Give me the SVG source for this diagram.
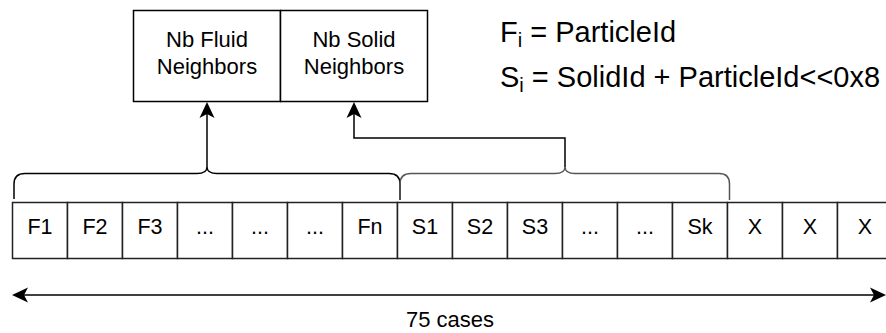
<svg xmlns="http://www.w3.org/2000/svg" width="886" height="333" viewBox="0 0 886 333">
<style>
  .box { fill: #fff; stroke: #000; stroke-width: 1.5; }
  .cell { fill: #fff; stroke: #222; stroke-width: 1.5; }
  .lbl { font-family: "Liberation Sans", Arial, sans-serif; font-size: 22px; fill: #000; text-anchor: middle; }
  .cl { font-family: "Liberation Sans", Arial, sans-serif; font-size: 21.5px; fill: #000; text-anchor: middle; }
  .fx { font-family: "Liberation Sans", Arial, sans-serif; font-size: 29px; fill: #000; }
  .sub { font-size: 20px; }
  .wire { fill: none; stroke: #000; stroke-width: 1.5; }
  .brace { fill: none; stroke: #000; stroke-width: 1.5; }
  .brace2 { fill: none; stroke: #555; stroke-width: 1.5; }
</style>
<defs>
  <marker id="arr" viewBox="0 -8 16 16" refX="4" refY="0" markerWidth="16" markerHeight="16" markerUnits="userSpaceOnUse" orient="auto-start-reverse">
    <path d="M16,0 L0,-7.5 L4,0 L0,7.5 Z" fill="#000"/>
  </marker>
</defs>
<rect width="886" height="333" fill="#fff"/>

<g id="node-fluid">
  <rect class="box" x="133.5" y="10.5" width="147" height="91"/>
  <text class="lbl" x="207" y="47">Nb Fluid</text>
  <text class="lbl" x="207" y="74">Neighbors</text>
</g>
<g id="node-solid">
  <rect class="box" x="280.5" y="10.5" width="147" height="91"/>
  <text class="lbl" x="354" y="47">Nb Solid</text>
  <text class="lbl" x="354" y="74">Neighbors</text>
</g>

<g id="legend">
  <text class="fx" x="500" y="42">F<tspan class="sub" dy="5">i</tspan><tspan dy="-5"> = ParticleId</tspan></text>
  <text class="fx" x="500" y="87">S<tspan class="sub" dy="5">i</tspan><tspan dy="-5"> = SolidId + ParticleId&lt;&lt;0x8</tspan></text>
</g>

<g id="cells">
  <g id="cell-1"><rect class="cell" x="12.5" y="202.5" width="55" height="56"/><text class="cl" x="40" y="234">F1</text></g>
  <g id="cell-2"><rect class="cell" x="67.5" y="202.5" width="55" height="56"/><text class="cl" x="95" y="234">F2</text></g>
  <g id="cell-3"><rect class="cell" x="122.5" y="202.5" width="55" height="56"/><text class="cl" x="150" y="234">F3</text></g>
  <g id="cell-4"><rect class="cell" x="177.5" y="202.5" width="55" height="56"/><text class="cl" x="205" y="234">...</text></g>
  <g id="cell-5"><rect class="cell" x="232.5" y="202.5" width="55" height="56"/><text class="cl" x="260" y="234">...</text></g>
  <g id="cell-6"><rect class="cell" x="287.5" y="202.5" width="55" height="56"/><text class="cl" x="315" y="234">...</text></g>
  <g id="cell-7"><rect class="cell" x="342.5" y="202.5" width="55" height="56"/><text class="cl" x="370" y="234">Fn</text></g>
  <g id="cell-8"><rect class="cell" x="397.5" y="202.5" width="55" height="56"/><text class="cl" x="425" y="234">S1</text></g>
  <g id="cell-9"><rect class="cell" x="452.5" y="202.5" width="55" height="56"/><text class="cl" x="480" y="234">S2</text></g>
  <g id="cell-10"><rect class="cell" x="507.5" y="202.5" width="55" height="56"/><text class="cl" x="535" y="234">S3</text></g>
  <g id="cell-11"><rect class="cell" x="562.5" y="202.5" width="55" height="56"/><text class="cl" x="590" y="234">...</text></g>
  <g id="cell-12"><rect class="cell" x="617.5" y="202.5" width="55" height="56"/><text class="cl" x="645" y="234">...</text></g>
  <g id="cell-13"><rect class="cell" x="672.5" y="202.5" width="55" height="56"/><text class="cl" x="700" y="234">Sk</text></g>
  <g id="cell-14"><rect class="cell" x="727.5" y="202.5" width="55" height="56"/><text class="cl" x="755" y="234">X</text></g>
  <g id="cell-15"><rect class="cell" x="782.5" y="202.5" width="55" height="56"/><text class="cl" x="810" y="234">X</text></g>
  <g id="cell-16"><rect class="cell" x="837.5" y="202.5" width="55" height="56"/><text class="cl" x="865" y="234">X</text></g>
</g>

<g id="connectors">
  <path class="brace" d="M14,199 L14,184 Q14,173.5 25,173.5 L197,173.5 Q207,173.5 207,167 Q207,173.5 217,173.5 L389,173.5 Q400,173.5 400,184 L400,200"/>
  <path class="brace2" d="M400,200 L400,184 Q400,173.5 411,173.5 L555,173.5 Q565,173.5 565,167 Q565,173.5 575,173.5 L719,173.5 Q729.5,173.5 729.5,184 L729.5,200"/>
  <path class="wire" d="M207,167 L207,114" marker-end="url(#arr)"/>
  <path class="wire" d="M565,167 L565,138 L354,138 L354,114" marker-end="url(#arr)"/>
  <path class="wire" d="M24,295 L874,295" marker-start="url(#arr)" marker-end="url(#arr)"/>
</g>
<text class="lbl" x="450" y="327">75 cases</text>
</svg>
